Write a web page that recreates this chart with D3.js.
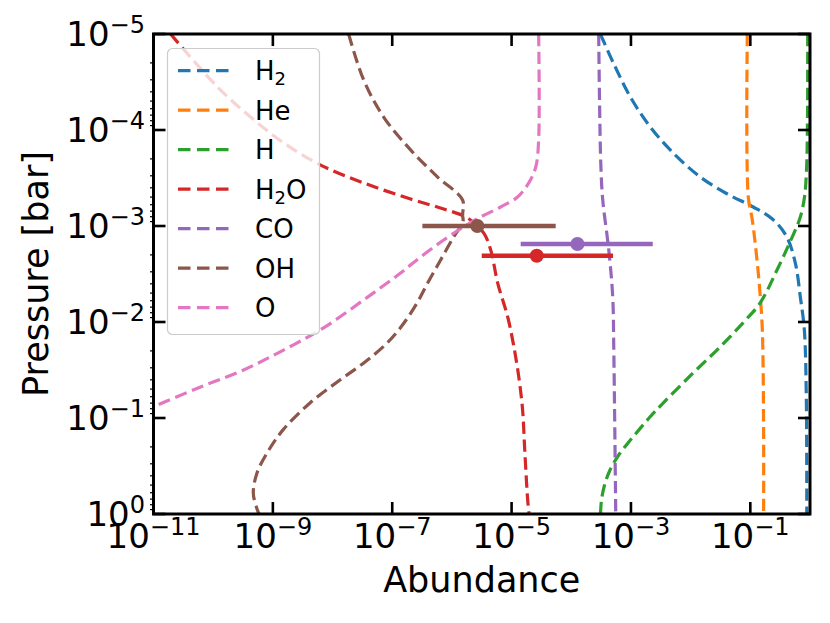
<!DOCTYPE html>
<html>
<head>
<meta charset="utf-8">
<script src="https://cdn.jsdelivr.net/npm/d3@7"></script>
<style>
  body { margin: 0; background: #fff; }
  text { font-family: "DejaVu Sans", sans-serif; }
</style>
</head>
<body>
<div id="chart"></div>
<script>
// species and colours (matplotlib tab10)
const species = ["H2", "He", "H", "H2O", "CO", "OH", "O"];
const legendText = ["H_2", "He", "H", "H_2O", "CO", "OH", "O"];
const colors = ["#1f77b4", "#ff7f0e", "#2ca02c", "#d62728", "#9467bd", "#8c564b", "#e377c2"];

// abundance profiles, pressure in bar
const h2Abund = [3.07e-4, 5.07e-4, 9.77e-4, 2.11e-3, 5.13e-3, 1.45e-2, 4.12e-2, 0.112, 0.234, 0.401, 0.568, 0.689, 0.804, 0.867, 0.883];
const h2Press = [1e-5, 2.0e-5, 4.53e-5, 9.31e-5, 1.74e-4, 3.09e-4, 4.64e-4, 6.34e-4, 8.45e-4, 1.27e-3, 2.43e-3, 5.5e-3, 1.21e-2, 6.04e-2, 1];

const heAbund = [0.0891, 0.0925, 0.108, 0.131, 0.147, 0.159, 0.167, 0.167];
const hePress = [1e-5, 4.99e-4, 8.66e-4, 2.43e-3, 5.5e-3, 1.21e-2, 0.133, 1];

const hAbund = [0.915, 0.908, 0.874, 0.809, 0.680, 0.462, 0.280, 0.146, 0.0755, 0.0311, 0.0110, 3.46e-3, 2.08e-3, 1.36e-3, 8.93e-4, 6.07e-4, 4.46e-4, 3.61e-4, 3.21e-4, 3.09e-4];
const hPress = [1e-5, 7.87e-5, 2.61e-4, 4.99e-4, 8.26e-4, 1.47e-3, 2.87e-3, 6.34e-3, 1.02e-2, 1.82e-2, 3.40e-2, 6.98e-2, 9.77e-2, 0.133, 0.182, 0.249, 0.348, 0.499, 0.715, 1];

const h2oAbund = [1.93e-11, 1.18e-10, 4.23e-10, 1.51e-9, 6.31e-9, 3.32e-8, 2.03e-7, 7.28e-7, 1.84e-6, 3.40e-6, 4.47e-6, 5.85e-6, 8.61e-6, 1.08e-5, 1.32e-5, 1.53e-5, 1.66e-5, 1.86e-5, 1.96e-5];
const h2oPress = [1e-5, 3.56e-5, 7.33e-5, 1.36e-4, 2.32e-4, 3.56e-4, 5.24e-4, 6.65e-4, 8.26e-4, 1.18e-3, 1.78e-3, 3.93e-3, 8.87e-3, 1.74e-2, 3.74e-2, 8.26e-2, 0.215, 0.714, 1];

const coAbund = [2.88e-4, 3.12e-4, 3.37e-4, 4.25e-4, 4.95e-4, 5.15e-4, 5.56e-4];
const coPress = [1e-5, 2.21e-4, 5.37e-4, 1.78e-3, 5.5e-3, 1.82e-2, 1];

const ohAbund = [1.86e-8, 3.32e-8, 7.18e-8, 2.03e-7, 5.77e-7, 1.51e-6, 1.51e-6, 1.53e-6, 1.07e-6, 6.47e-7, 3.92e-7, 2.60e-7, 1.40e-7, 7.57e-8, 3.50e-8, 1.33e-8, 4.19e-9, 1.48e-9, 7.98e-10, 5.42e-10, 4.70e-10, 5.36e-10, 5.86e-10];
const ohPress = [1e-5, 3.01e-5, 7.33e-5, 1.61e-4, 3.09e-4, 5.36e-4, 7.67e-4, 9.12e-4, 1.30e-3, 2.26e-3, 3.93e-3, 6.34e-3, 1.13e-2, 1.74e-2, 2.61e-2, 4.02e-2, 6.98e-2, 0.133, 0.232, 0.374, 0.604, 0.866, 1];

const oAbund = [2.84e-5, 2.84e-5, 2.54e-5, 1.94e-5, 1.26e-5, 6.56e-6, 3.03e-6, 1.57e-6, 7.28e-7, 2.99e-7, 1.38e-7, 3.87e-8, 7.08e-9, 1.51e-9, 3.23e-10, 6.14e-11, 1.17e-11, 1e-11];
const oPress = [1e-5, 1.27e-4, 2.43e-4, 3.56e-4, 4.99e-4, 6.34e-4, 8.05e-4, 1.02e-3, 1.40e-3, 2.10e-3, 3.09e-3, 5.5e-3, 1.15e-2, 1.96e-2, 3.16e-2, 4.75e-2, 7.33e-2, 7.67e-2];

// retrieved abundances with error bars
const obsSpecies = ["H2O", "CO", "OH"];
const obsValue = [2.64e-5, 1.27e-4, 2.67e-6];
const obsLow = [3.16e-6, 1.42e-5, 3.20e-7];
const obsHigh = [5.01e-4, 2.32e-3, 5.48e-5];
const obsPress = [2.04e-3, 1.54e-3, 1.0e-3];

// ticks
const xTickExp = [-11, -9, -7, -5, -3, -1];
const yTickExp = [-5, -4, -3, -2, -1, 0];

const profiles = [
  [h2Abund, h2Press], [heAbund, hePress], [hAbund, hPress], [h2oAbund, h2oPress],
  [coAbund, coPress], [ohAbund, ohPress], [oAbund, oPress]
];

const W = 830, H = 623;
const pLeft = 153.5, pRight = 810, pTop = 34, pBottom = 514;

const svg = d3.select("#chart").append("svg")
  .attr("width", W)
  .attr("height", H);

const x = d3.scaleLog().domain([1e-11, 1]).range([pLeft, pRight]);
const y = d3.scaleLog().domain([1e-5, 1]).range([pTop, pBottom]);

svg.append("clipPath").attr("id", "plot-clip")
  .append("rect")
  .attr("x", pLeft).attr("y", pTop)
  .attr("width", pRight - pLeft).attr("height", pBottom - pTop);

const plot = svg.append("g").attr("clip-path", "url(#plot-clip)");

const line = d3.line()
  .x(d => x(d[0]))
  .y(d => y(d[1]))
  .curve(d3.curveCatmullRom.alpha(0.5));

// model profiles
profiles.forEach(function(p, i) {
  const pts = p[0].map((a, j) => [a, p[1][j]]);
  plot.append("path")
    .datum(pts)
    .attr("d", line)
    .attr("fill", "none")
    .attr("stroke", colors[i])
    .attr("stroke-width", 3.2)
    .attr("stroke-dasharray", "12.3,5.6");
});

// error bars
obsSpecies.forEach(function(s, i) {
  const c = colors[species.indexOf(s)];
  plot.append("line")
    .attr("x1", x(obsLow[i])).attr("x2", x(obsHigh[i]))
    .attr("y1", y(obsPress[i])).attr("y2", y(obsPress[i]))
    .attr("stroke", c)
    .attr("stroke-width", 4.5);
  plot.append("circle")
    .attr("cx", x(obsValue[i]))
    .attr("cy", y(obsPress[i]))
    .attr("r", 7)
    .attr("fill", c);
});

// minor ticks on the left axis only
const minor = [];
yTickExp.slice(0, -1).forEach(function(e) {
  for (let k = 2; k <= 9; k++) minor.push(k * Math.pow(10, e));
});
svg.append("g").selectAll("line")
  .data(minor)
  .join("line")
  .attr("x1", pLeft - 3.5).attr("x2", pLeft + 1)
  .attr("y1", d => y(d)).attr("y2", d => y(d))
  .attr("stroke", "#000").attr("stroke-width", 1.2);

// major ticks, pointing inward, on all four sides
const tickLen = 12, tickW = 2.6;
const ticks = svg.append("g").attr("stroke", "#000").attr("stroke-width", tickW);
xTickExp.forEach(function(e) {
  const px = x(Math.pow(10, e));
  ticks.append("line").attr("x1", px).attr("x2", px).attr("y1", pBottom).attr("y2", pBottom - tickLen);
  ticks.append("line").attr("x1", px).attr("x2", px).attr("y1", pTop).attr("y2", pTop + tickLen);
});
yTickExp.forEach(function(e) {
  const py = y(Math.pow(10, e));
  ticks.append("line").attr("y1", py).attr("y2", py).attr("x1", pLeft).attr("x2", pLeft + tickLen);
  ticks.append("line").attr("y1", py).attr("y2", py).attr("x1", pRight).attr("x2", pRight - tickLen);
});

// spines
svg.append("rect")
  .attr("x", pLeft).attr("y", pTop)
  .attr("width", pRight - pLeft).attr("height", pBottom - pTop)
  .attr("fill", "none")
  .attr("stroke", "#000")
  .attr("stroke-width", 3);

// tick labels like 10^{-5}
function powLabel(sel, e) {
  sel.append("tspan").text("10");
  sel.append("tspan")
    .attr("dy", -13)
    .attr("font-size", 24)
    .text(e < 0 ? "\u2212" + Math.abs(e) : String(e));
}

xTickExp.forEach(function(e) {
  const t = svg.append("text")
    .attr("x", x(Math.pow(10, e)))
    .attr("y", 548)
    .attr("text-anchor", "middle")
    .attr("font-size", 34);
  powLabel(t, e);
});
yTickExp.forEach(function(e) {
  const t = svg.append("text")
    .attr("x", 145)
    .attr("y", y(Math.pow(10, e)) + 12)
    .attr("text-anchor", "end")
    .attr("font-size", 34);
  powLabel(t, e);
});

// axis titles
svg.append("text")
  .attr("x", (pLeft + pRight) / 2)
  .attr("y", 592)
  .attr("text-anchor", "middle")
  .attr("font-size", 35)
  .text("Abundance");

svg.append("text")
  .attr("transform", "translate(48," + ((pTop + pBottom) / 2) + ") rotate(-90)")
  .attr("text-anchor", "middle")
  .attr("font-size", 35)
  .text("Pressure [bar]");

// legend
const legend = svg.append("g");
legend.append("rect")
  .attr("x", 167.5).attr("y", 48.5)
  .attr("width", 152).attr("height", 286)
  .attr("rx", 5)
  .attr("fill", "#fff").attr("fill-opacity", 0.8)
  .attr("stroke", "#cccccc").attr("stroke-width", 1.2);

legendText.forEach(function(lbl, i) {
  const ly = 70.7 + i * 39.5;
  legend.append("line")
    .attr("x1", 178).attr("x2", 230)
    .attr("y1", ly).attr("y2", ly)
    .attr("stroke", colors[i])
    .attr("stroke-width", 3.2)
    .attr("stroke-dasharray", "12.5,6.5");
  const t = legend.append("text")
    .attr("x", 255).attr("y", ly + 9.5)
    .attr("font-size", 26);
  const parts = lbl.split("_");
  t.append("tspan").text(parts[0]);
  if (parts.length > 1) {
    t.append("tspan").attr("dy", 5).attr("font-size", 18).text(parts[1][0]);
    if (parts[1].length > 1) t.append("tspan").attr("dy", -5).text(parts[1].slice(1));
  }
});
</script>
</body>
</html>
